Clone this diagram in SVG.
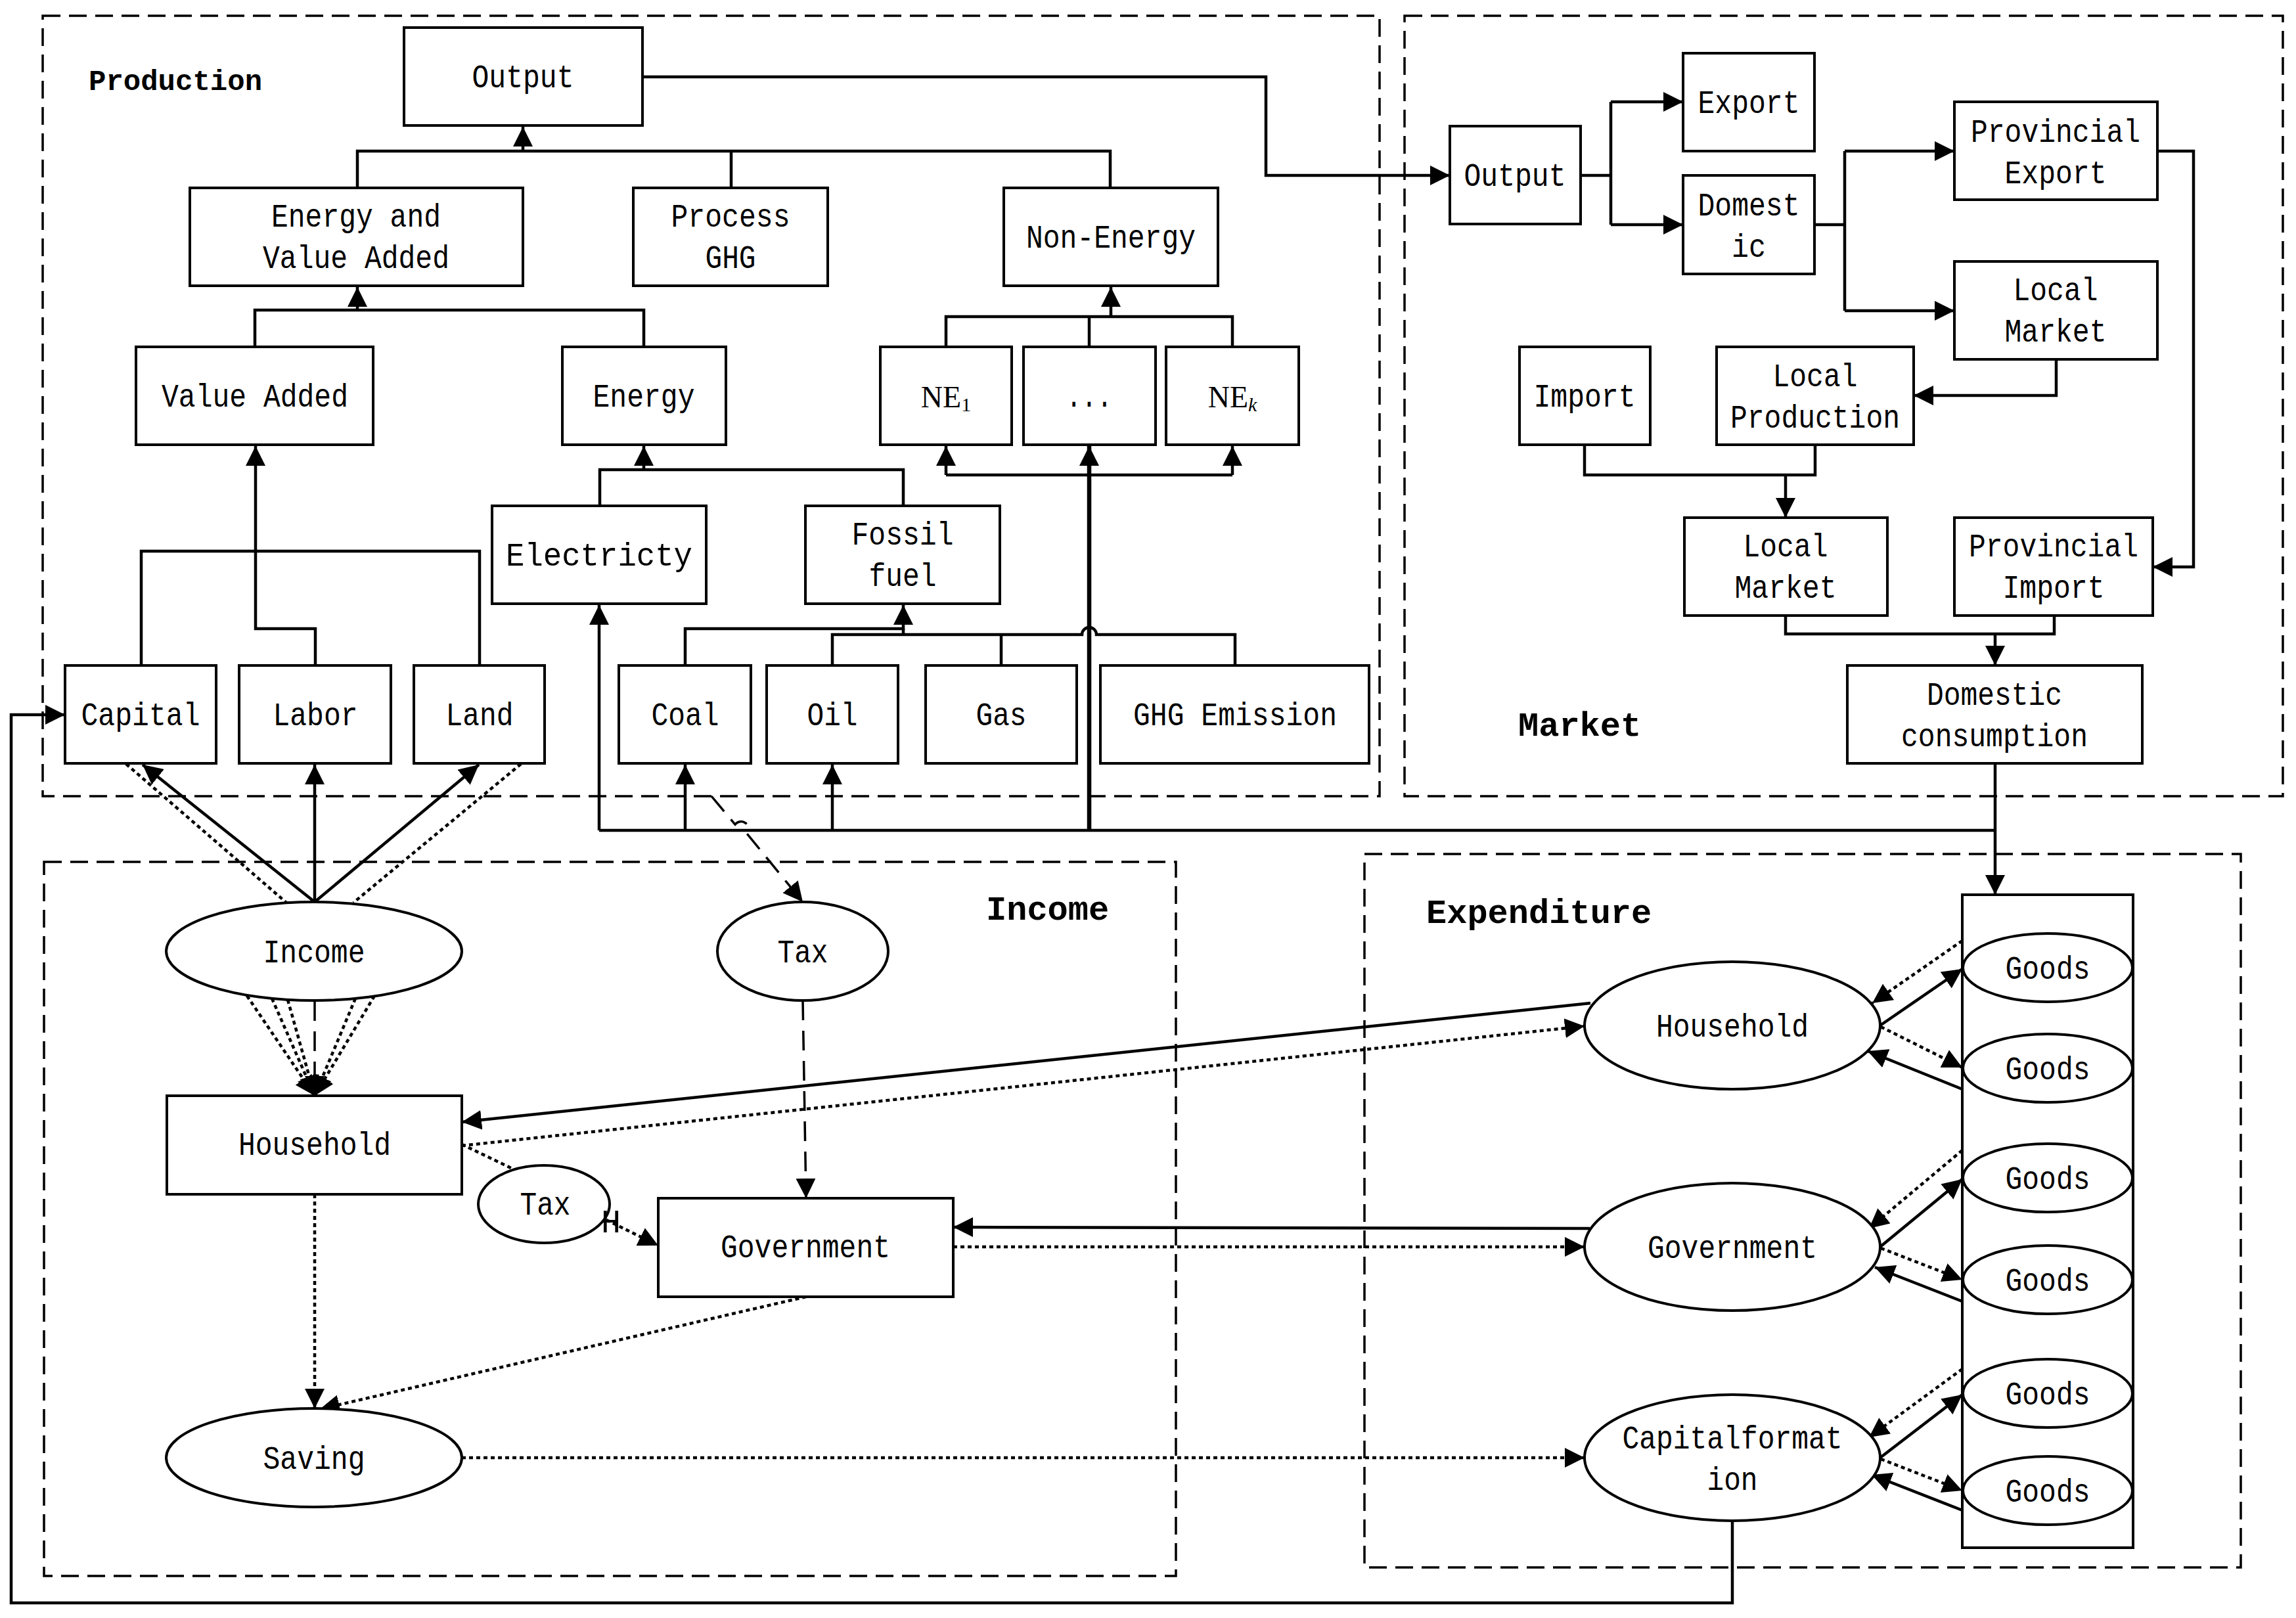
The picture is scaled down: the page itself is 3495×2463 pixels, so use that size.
<svg xmlns="http://www.w3.org/2000/svg" width="3495" height="2463" viewBox="0 0 3495 2463">
<defs>
<marker id="a" markerUnits="userSpaceOnUse" viewBox="0 0 30 30" refX="30" refY="15" markerWidth="30" markerHeight="30" orient="auto"><path d="M0,0 L30,15 L0,30 z" fill="#000"/></marker>
<style>
.box{fill:#fff;stroke:#000;stroke-width:4}
.sec{fill:none;stroke:#000;stroke-width:3.5;stroke-dasharray:27 13}
.ln{fill:none;stroke:#000;stroke-width:4.5}
.thk{stroke-width:6.5}
.dot{fill:none;stroke:#000;stroke-width:4.5;stroke-dasharray:6 5}
.dsh{fill:none;stroke:#000;stroke-width:3.5;stroke-dasharray:30 16}
.ar{marker-end:url(#a)}
.t{font-family:"Liberation Mono","DejaVu Sans Mono",monospace;font-size:50px;text-anchor:middle;fill:#000}
.h{font-family:"Liberation Mono","DejaVu Sans Mono",monospace;font-weight:bold;fill:#000}
.ne{font-family:"Liberation Serif","DejaVu Serif",serif;font-size:46px;text-anchor:middle;fill:#000}
</style>
</defs>
<rect width="3495" height="2463" fill="#fff"/>
<g id="sections">
<rect class="sec" x="65" y="24" width="2035" height="1188"/>
<rect class="sec" x="2138" y="24" width="1337" height="1188"/>
<rect class="sec" x="67" y="1312" width="1723" height="1087"/>
<rect class="sec" x="2077" y="1300" width="1334" height="1086"/>
<text class="h" x="135" y="137" font-size="44">Production</text>
<text class="h" x="2311" y="1120" font-size="52">Market</text>
<text class="h" x="1501" y="1400" font-size="52">Income</text>
<text class="h" x="2171" y="1405" font-size="52">Expenditure</text>
</g>
<g id="connectors">
<path class="ln" d="M544,286 V230 H1690 V286 M1113,230 V286"/>
<path class="ln ar" d="M796,230 V193"/>
<path class="ln" d="M388,528 V472 H980 V528"/>
<path class="ln ar" d="M544,472 V437"/>
<path class="ln" d="M1440,528 V482 H1876 V528 M1658,482 V528"/>
<path class="ln ar" d="M1691,482 V437"/>
<path class="ln" d="M913,770 V715 H1375 V770"/>
<path class="ln ar" d="M980,715 V679"/>
<path class="ln" d="M1440,723 H1876"/>
<path class="ln ar" d="M1440,723 V679"/>
<path class="ln ar" d="M1876,723 V679"/>
<path class="ln thk ar" d="M1658,1264 V679"/>
<path class="ln ar" d="M480,1013 V957 H389 V679"/>
<path class="ln" d="M215,1013 V839 H730 V1013"/>
<path class="ln ar" d="M1043,1013 V957 H1375 V921"/>
<path class="ln" d="M1375,957 V966 M1267,1013 V966 H1647 A11,11 0 0 1 1669,966 H1880 V1013 M1524,966 V1013"/>
<path class="ln" d="M912,1264 H3037"/>
<path class="ln ar" d="M912,1264 V921"/>
<path class="ln ar" d="M1043,1264 V1164"/>
<path class="ln ar" d="M1267,1264 V1164"/>
<path class="ln ar" d="M3037,1162 V1362"/>
<path class="ln ar" d="M978,117 H1927 V267 H2207"/>
<path class="ln" d="M2406,267 H2452 M2452,155 V342"/>
<path class="ln ar" d="M2452,155 H2562"/>
<path class="ln ar" d="M2452,342 H2562"/>
<path class="ln" d="M2762,342 H2808 M2808,230 V473"/>
<path class="ln ar" d="M2808,230 H2975"/>
<path class="ln ar" d="M2808,473 H2975"/>
<path class="ln ar" d="M3284,230 H3339 V863 H3277"/>
<path class="ln ar" d="M3130,547 V602 H2913"/>
<path class="ln" d="M2412,677 V723 H2763 V677"/>
<path class="ln ar" d="M2718,723 V788"/>
<path class="ln" d="M2718,937 V965 H3127 V937"/>
<path class="ln ar" d="M3037,965 V1013"/>
<path class="ln ar" d="M479,1373 L217,1164"/>
<path class="ln ar" d="M479,1373 V1164"/>
<path class="ln ar" d="M479,1373 L729,1164"/>
<path class="dot" d="M192,1163 L436,1374"/>
<path class="dot" d="M793,1163 L538,1374"/>
<path class="dot ar" d="M376,1516 L479,1668"/>
<path class="dot ar" d="M414,1520 L479,1668"/>
<path class="dot ar" d="M438,1522 L479,1668"/>
<path class="dot ar" d="M541,1520 L479,1668"/>
<path class="dot ar" d="M570,1516 L479,1668"/>
<path class="dsh ar" d="M479,1524 V1668"/>
<path class="dsh ar" d="M1083,1212 L1119,1255 A11,11 0 0 1 1137,1269 L1222,1373"/>
<path class="dsh ar" d="M1222,1523 L1227,1824"/>
<path class="dot" d="M703,1742 L780,1779"/>
<path class="dot ar" d="M923,1857 L1002,1896"/>
<path class="dot ar" d="M479,1818 V2144"/>
<path class="dot ar" d="M1227,1974 L487,2145"/>
<path class="ln ar" d="M2421,1527 L703,1708"/>
<path class="dot ar" d="M703,1744 L2412,1562"/>
<path class="ln ar" d="M2420,1870 L1451,1868"/>
<path class="dot ar" d="M1451,1898 H2412"/>
<path class="dot ar" d="M703,2219 H2412"/>
<path class="ln ar" d="M2862,1561 L2987,1475"/>
<path class="dot ar" d="M2987,1432 L2850,1527"/>
<path class="dot ar" d="M2863,1563 L2987,1625"/>
<path class="ln ar" d="M2987,1658 L2843,1600"/>
<path class="ln ar" d="M2862,1898 L2987,1795"/>
<path class="dot ar" d="M2987,1751 L2845,1870"/>
<path class="dot ar" d="M2863,1900 L2987,1948"/>
<path class="ln ar" d="M2987,1981 L2854,1929"/>
<path class="ln ar" d="M2862,2219 L2987,2123"/>
<path class="dot ar" d="M2987,2084 L2845,2188"/>
<path class="dot ar" d="M2863,2221 L2987,2269"/>
<path class="ln ar" d="M2987,2299 L2849,2245"/>
<path class="ln ar" d="M2637,2315 V2440 H17 V1088 H99"/>
</g>
<g id="prod-output"><rect class="box" x="615" y="42" width="363" height="149"/><text class="t" x="796" y="133" textLength="155" lengthAdjust="spacingAndGlyphs">Output</text></g>
<g id="energy-value-added"><rect class="box" x="289" y="286" width="507" height="149"/><text class="t" x="542" y="345" textLength="258" lengthAdjust="spacingAndGlyphs">Energy and</text><text class="t" x="542" y="408" textLength="284" lengthAdjust="spacingAndGlyphs">Value Added</text></g>
<g id="process-ghg"><rect class="box" x="964" y="286" width="296" height="149"/><text class="t" x="1112" y="345" textLength="181" lengthAdjust="spacingAndGlyphs">Process</text><text class="t" x="1112" y="408" textLength="77" lengthAdjust="spacingAndGlyphs">GHG</text></g>
<g id="non-energy"><rect class="box" x="1528" y="286" width="326" height="149"/><text class="t" x="1691" y="377" textLength="258" lengthAdjust="spacingAndGlyphs">Non-Energy</text></g>
<g id="value-added"><rect class="box" x="207" y="528" width="361" height="149"/><text class="t" x="388" y="619" textLength="284" lengthAdjust="spacingAndGlyphs">Value Added</text></g>
<g id="energy"><rect class="box" x="856" y="528" width="249" height="149"/><text class="t" x="980" y="619" textLength="155" lengthAdjust="spacingAndGlyphs">Energy</text></g>
<g id="ne1"><rect class="box" x="1340" y="528" width="200" height="149"/><text class="ne" x="1440" y="620">NE<tspan font-size="30" dy="6">1</tspan></text></g>
<g id="ne-dots"><rect class="box" x="1558" y="528" width="201" height="149"/><text class="t" x="1658" y="619" textLength="70" lengthAdjust="spacingAndGlyphs">...</text></g>
<g id="nek"><rect class="box" x="1775" y="528" width="202" height="149"/><text class="ne" x="1876" y="620">NE<tspan font-size="30" dy="6" font-style="italic">k</tspan></text></g>
<g id="electricity"><rect class="box" x="749" y="770" width="326" height="149"/><text class="t" x="912" y="861" textLength="284" lengthAdjust="spacingAndGlyphs">Electricty</text></g>
<g id="fossil-fuel"><rect class="box" x="1226" y="770" width="296" height="149"/><text class="t" x="1374" y="829" textLength="155" lengthAdjust="spacingAndGlyphs">Fossil</text><text class="t" x="1374" y="892" textLength="103" lengthAdjust="spacingAndGlyphs">fuel</text></g>
<g id="capital"><rect class="box" x="99" y="1013" width="230" height="149"/><text class="t" x="214" y="1104" textLength="181" lengthAdjust="spacingAndGlyphs">Capital</text></g>
<g id="labor"><rect class="box" x="364" y="1013" width="231" height="149"/><text class="t" x="480" y="1104" textLength="129" lengthAdjust="spacingAndGlyphs">Labor</text></g>
<g id="land"><rect class="box" x="630" y="1013" width="199" height="149"/><text class="t" x="730" y="1104" textLength="103" lengthAdjust="spacingAndGlyphs">Land</text></g>
<g id="coal"><rect class="box" x="942" y="1013" width="201" height="149"/><text class="t" x="1043" y="1104" textLength="103" lengthAdjust="spacingAndGlyphs">Coal</text></g>
<g id="oil"><rect class="box" x="1167" y="1013" width="200" height="149"/><text class="t" x="1267" y="1104" textLength="77" lengthAdjust="spacingAndGlyphs">Oil</text></g>
<g id="gas"><rect class="box" x="1409" y="1013" width="230" height="149"/><text class="t" x="1524" y="1104" textLength="77" lengthAdjust="spacingAndGlyphs">Gas</text></g>
<g id="ghg-emission"><rect class="box" x="1675" y="1013" width="409" height="149"/><text class="t" x="1880" y="1104" textLength="310" lengthAdjust="spacingAndGlyphs">GHG Emission</text></g>
<g id="market-output"><rect class="box" x="2207" y="192" width="199" height="149"/><text class="t" x="2306" y="283" textLength="155" lengthAdjust="spacingAndGlyphs">Output</text></g>
<g id="export"><rect class="box" x="2562" y="81" width="200" height="149"/><text class="t" x="2662" y="172" textLength="155" lengthAdjust="spacingAndGlyphs">Export</text></g>
<g id="domestic"><rect class="box" x="2562" y="267" width="200" height="150"/><text class="t" x="2662" y="328" textLength="155" lengthAdjust="spacingAndGlyphs">Domest</text><text class="t" x="2662" y="391" textLength="52" lengthAdjust="spacingAndGlyphs">ic</text></g>
<g id="provincial-export"><rect class="box" x="2975" y="155" width="309" height="149"/><text class="t" x="3129" y="216" textLength="258" lengthAdjust="spacingAndGlyphs">Provincial</text><text class="t" x="3129" y="279" textLength="155" lengthAdjust="spacingAndGlyphs">Export</text></g>
<g id="local-market-1"><rect class="box" x="2975" y="398" width="309" height="149"/><text class="t" x="3129" y="457" textLength="129" lengthAdjust="spacingAndGlyphs">Local</text><text class="t" x="3129" y="520" textLength="155" lengthAdjust="spacingAndGlyphs">Market</text></g>
<g id="import"><rect class="box" x="2313" y="528" width="199" height="149"/><text class="t" x="2412" y="619" textLength="155" lengthAdjust="spacingAndGlyphs">Import</text></g>
<g id="local-production"><rect class="box" x="2613" y="528" width="300" height="149"/><text class="t" x="2763" y="588" textLength="129" lengthAdjust="spacingAndGlyphs">Local</text><text class="t" x="2763" y="651" textLength="258" lengthAdjust="spacingAndGlyphs">Production</text></g>
<g id="local-market-2"><rect class="box" x="2564" y="788" width="309" height="149"/><text class="t" x="2718" y="847" textLength="129" lengthAdjust="spacingAndGlyphs">Local</text><text class="t" x="2718" y="910" textLength="155" lengthAdjust="spacingAndGlyphs">Market</text></g>
<g id="provincial-import"><rect class="box" x="2975" y="788" width="302" height="149"/><text class="t" x="3126" y="847" textLength="258" lengthAdjust="spacingAndGlyphs">Provincial</text><text class="t" x="3126" y="910" textLength="155" lengthAdjust="spacingAndGlyphs">Import</text></g>
<g id="domestic-consumption"><rect class="box" x="2812" y="1013" width="449" height="149"/><text class="t" x="3036" y="1073" textLength="206" lengthAdjust="spacingAndGlyphs">Domestic</text><text class="t" x="3036" y="1136" textLength="284" lengthAdjust="spacingAndGlyphs">consumption</text></g>
<g id="income"><ellipse class="box" cx="478" cy="1448" rx="225" ry="75"/><text class="t" x="478" y="1465" textLength="155" lengthAdjust="spacingAndGlyphs">Income</text></g>
<g id="tax"><ellipse class="box" cx="1222" cy="1448" rx="130" ry="75"/><text class="t" x="1222" y="1465" textLength="77" lengthAdjust="spacingAndGlyphs">Tax</text></g>
<g id="household-income"><rect class="box" x="254" y="1668" width="449" height="150"/><text class="t" x="479" y="1758" textLength="232" lengthAdjust="spacingAndGlyphs">Household</text></g>
<g id="tax-h"><ellipse class="box" cx="828" cy="1833" rx="100" ry="59"/><text class="t" x="830" y="1849" textLength="77" lengthAdjust="spacingAndGlyphs">Tax</text><text class="t" x="930" y="1876" font-size="34">H</text></g>
<g id="government-income"><rect class="box" x="1002" y="1824" width="449" height="150"/><text class="t" x="1226" y="1914" textLength="258" lengthAdjust="spacingAndGlyphs">Government</text></g>
<g id="saving"><ellipse class="box" cx="478" cy="2219" rx="225" ry="75"/><text class="t" x="478" y="2236" textLength="155" lengthAdjust="spacingAndGlyphs">Saving</text></g>
<g id="household-exp"><ellipse class="box" cx="2637" cy="1561" rx="225" ry="97"/><text class="t" x="2637" y="1578" textLength="232" lengthAdjust="spacingAndGlyphs">Household</text></g>
<g id="government-exp"><ellipse class="box" cx="2637" cy="1898" rx="225" ry="97"/><text class="t" x="2637" y="1915" textLength="258" lengthAdjust="spacingAndGlyphs">Government</text></g>
<g id="capital-formation"><ellipse class="box" cx="2637" cy="2219" rx="225" ry="96"/><text class="t" x="2637" y="2205" textLength="335" lengthAdjust="spacingAndGlyphs">Capitalformat</text><text class="t" x="2637" y="2268" textLength="77" lengthAdjust="spacingAndGlyphs">ion</text></g>
<g id="goods-column"><rect class="box" x="2987" y="1362" width="260" height="994"/>
<ellipse class="box" cx="3117" cy="1473" rx="129" ry="52"/><text class="t" x="3117" y="1490" textLength="129" lengthAdjust="spacingAndGlyphs">Goods</text>
<ellipse class="box" cx="3117" cy="1626" rx="129" ry="52"/><text class="t" x="3117" y="1643" textLength="129" lengthAdjust="spacingAndGlyphs">Goods</text>
<ellipse class="box" cx="3117" cy="1793" rx="129" ry="52"/><text class="t" x="3117" y="1810" textLength="129" lengthAdjust="spacingAndGlyphs">Goods</text>
<ellipse class="box" cx="3117" cy="1948" rx="129" ry="52"/><text class="t" x="3117" y="1965" textLength="129" lengthAdjust="spacingAndGlyphs">Goods</text>
<ellipse class="box" cx="3117" cy="2121" rx="129" ry="52"/><text class="t" x="3117" y="2138" textLength="129" lengthAdjust="spacingAndGlyphs">Goods</text>
<ellipse class="box" cx="3117" cy="2269" rx="129" ry="52"/><text class="t" x="3117" y="2286" textLength="129" lengthAdjust="spacingAndGlyphs">Goods</text>
</g>
</svg>
